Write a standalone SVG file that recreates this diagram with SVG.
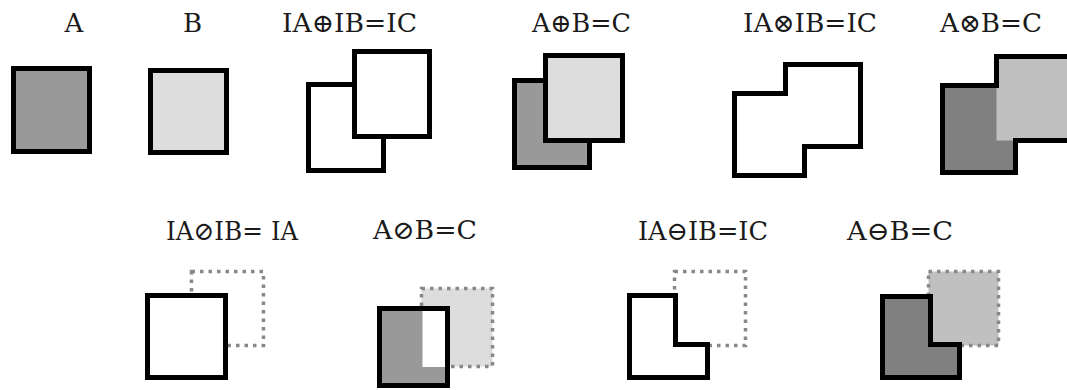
<svg xmlns="http://www.w3.org/2000/svg" width="1067" height="390" viewBox="0 0 1067 390">
<style>
text{font-family:'DejaVu Serif','Liberation Serif',serif;font-size:26px;fill:#1a1a1a}
.s{stroke:#000;stroke-width:5;stroke-linejoin:miter}
.d{stroke:#888;stroke-width:3.5;stroke-dasharray:3.5 5}
.w{fill:#fff}
.g1{fill:#999}
.g2{fill:#ddd}
.g3{fill:#808080}
.g4{fill:#c0c0c0}
</style>
<rect width="1067" height="390" fill="#fff"/>
<g id="A">
<text x="74" y="32" text-anchor="middle">A</text>
<rect class="s g1" x="13.5" y="68.5" width="76" height="83"/>
</g>
<g id="B">
<text x="192.5" y="32" text-anchor="middle">B</text>
<rect class="s g2" x="150.5" y="70.5" width="76" height="82"/>
</g>
<g id="IA_plus_IB">
<text x="282" y="32" textLength="135" lengthAdjust="spacingAndGlyphs">IA⊕IB=IC</text>
<rect class="s w" x="308.5" y="84.5" width="75" height="86"/>
<rect class="s w" x="354.5" y="51.5" width="75" height="85"/>
</g>
<g id="A_plus_B">
<text x="532" y="32" textLength="99" lengthAdjust="spacingAndGlyphs">A⊕B=C</text>
<rect class="s g1" x="514.5" y="80.5" width="75" height="87"/>
<rect class="s g2" x="545.5" y="55.5" width="77" height="85"/>
</g>
<g id="IA_times_IB">
<text x="743" y="32" textLength="134" lengthAdjust="spacingAndGlyphs">IA⊗IB=IC</text>
<path class="s w" d="M734.5,93.5 H785.5 V64.5 H860.5 V146.5 H804.5 V175.5 H734.5 Z"/>
</g>
<g id="A_times_B">
<text x="940" y="32" textLength="102" lengthAdjust="spacingAndGlyphs">A⊗B=C</text>
<rect class="g3" x="942.5" y="85.5" width="73" height="87"/>
<rect class="g4" x="996.5" y="56.5" width="80" height="84"/>
<path class="s" fill="none" d="M942.5,85.5 H996.5 V56.5 H1080 V140.5 H1015.5 V172.5 H942.5 Z"/>
</g>
<g id="IA_slash_IB">
<text x="166" y="240" textLength="97" lengthAdjust="spacingAndGlyphs">IA⊘IB=</text>
<text x="271" y="240" font-size="28" textLength="27" lengthAdjust="spacingAndGlyphs">IA</text>
<rect class="d" fill="none" x="191.5" y="271.5" width="72" height="74"/>
<rect class="s w" x="147.5" y="295.5" width="78" height="82"/>
</g>
<g id="A_slash_B">
<text x="373" y="239" textLength="104" lengthAdjust="spacingAndGlyphs">A⊘B=C</text>
<rect class="d g2" x="421.5" y="288.5" width="71" height="78"/>
<rect class="s g1" x="379.5" y="308.5" width="68" height="77"/>
<rect class="w" x="422.5" y="311" width="22.5" height="56"/>
</g>
<g id="IA_minus_IB">
<text x="638" y="240" textLength="130" lengthAdjust="spacingAndGlyphs">IA⊖IB=IC</text>
<rect class="d" fill="none" x="674.5" y="271.5" width="71" height="74"/>
<path class="s w" d="M629.5,295.5 H675.5 V344.5 H707.5 V377.5 H629.5 Z"/>
</g>
<g id="A_minus_B">
<text x="847" y="240" textLength="106" lengthAdjust="spacingAndGlyphs">A⊖B=C</text>
<rect class="d g4" x="928.5" y="271.5" width="70" height="74"/>
<path class="s g3" d="M882.5,296.5 H930.5 V344.5 H959.5 V377.5 H882.5 Z"/>
</g>
</svg>
